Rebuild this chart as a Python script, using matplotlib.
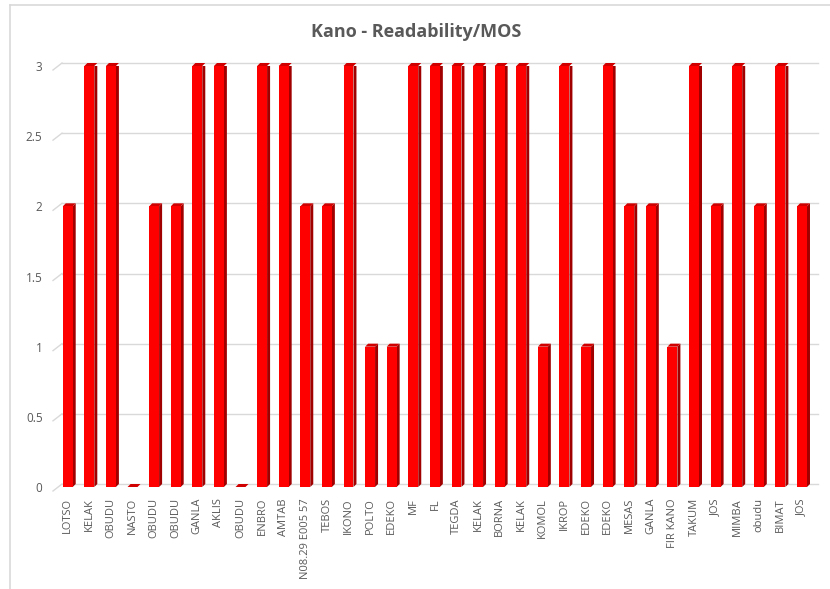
import matplotlib
matplotlib.use("Agg")
import matplotlib.pyplot as plt
from matplotlib.patches import Polygon
from matplotlib.lines import Line2D
import matplotlib.transforms as mtransforms

# data
sites = ["LOTSO", "KELAK", "OBUDU", "NASTO", "OBUDU", "OBUDU", "GANLA", "AKLIS",
         "OBUDU", "ENBRO", "AMTAB", "N08.29 E005 57", "TEBOS", "IKONO", "POLTO",
         "EDEKO", "MF", "FL", "TEGDA", "KELAK", "BORNA", "KELAK", "KOMOL", "IKROP",
         "EDEKO", "EDEKO", "MESAS", "GANLA", "FIR KANO", "TAKUM", "JOS", "MIMBA",
         "obudu", "BIMAT", "JOS"]
mos = [2, 3, 3, 0, 2, 2, 3, 3, 0, 3, 3, 2, 2, 3, 1, 1, 3, 3, 3, 3, 3, 3, 1, 3,
       1, 3, 2, 2, 1, 3, 2, 3, 2, 3, 2]
y_ticks = [0, 0.5, 1, 1.5, 2, 2.5, 3]
y_tick_labels = ["0", "0.5", "1", "1.5", "2", "2.5", "3"]

W, H = 830, 589
fig = plt.figure(figsize=(W / 100, H / 100), dpi=100)
fig.patch.set_facecolor("white")

# axes in pixel terms: left 55, right 818, bar base at 487, value 3 at 66
left, right, bottom, top = 55, 818, 487, 66
ax = fig.add_axes([left / W, 1 - bottom / H, (right - left) / W, (bottom - top) / H])
ax.set_xlim(-0.59, 34.74)
ax.set_ylim(0, 3)
ax.patch.set_visible(False)
for s in ax.spines.values():
    s.set_visible(False)

grey = "#595959"
gridc = "#D9D9D9"
x = list(range(len(sites)))
w = 0.46
dx = 3 / 21.6      # depth of the 3D effect in data units
dy = 3 / 140.3

# back-wall gridlines, with a short slanted floor piece on the left
ident = mtransforms.IdentityTransform()
x0_disp = ax.transAxes.transform((0, 0))[0]
x1_disp = ax.transAxes.transform((1, 0))[0]
for t in y_ticks:
    yd = ax.transData.transform((0, t))[1]
    fig.add_artist(Line2D([x0_disp - 2, x0_disp + 7], [yd - 4, yd + 3],
                          color=gridc, lw=1.0, transform=ident, zorder=0))
    fig.add_artist(Line2D([x0_disp + 7, x1_disp], [yd + 3, yd + 3],
                          color=gridc, lw=1.0, transform=ident, zorder=0))

# front faces
ax.bar(x, mos, width=w, color="#FF0000", edgecolor="none", zorder=3)

# side and top faces
for xi, v in zip(x, mos):
    xr = xi + w / 2
    xl = xi - w / 2
    side = Polygon([(xr, 0), (xr + dx, dy), (xr + dx, v + dy), (xr, v)],
                   closed=True, facecolor="#A00000", edgecolor="none", zorder=2)
    topf = Polygon([(xl, v), (xl + dx, v + dy), (xr + dx, v + dy), (xr, v)],
                   closed=True, facecolor="#D00000", edgecolor="none", zorder=2,
                   clip_on=False)
    ax.add_patch(side)
    ax.add_patch(topf)

ax.set_yticks(y_ticks)
ax.set_yticklabels(y_tick_labels, fontsize=8.5, color=grey, family="Open Sans")
for lbl in ax.get_yticklabels():
    lbl.set_transform(lbl.get_transform() +
                      mtransforms.ScaledTranslation(0, -4 / 100, fig.dpi_scale_trans))
ax.tick_params(axis="y", length=0, pad=9)

ax.set_xticks(x)
ax.set_xticklabels(sites, rotation=90, fontsize=8, color=grey, family="Open Sans",
                   va="top", ha="center")
ax.tick_params(axis="x", length=0, pad=8)

fig.text(416 / W, 1 - 32 / H, "Kano - Readability/MOS", ha="center", va="center",
         fontsize=13, fontweight="bold", color=grey, family="Open Sans")

# outer chart border (left and top edges visible in the crop)
fig.add_artist(Line2D([10 / W, 10 / W], [0, 1 - 5 / H], color=gridc, lw=1.2))
fig.add_artist(Line2D([10 / W, 1], [1 - 5 / H, 1 - 5 / H], color=gridc, lw=1.2))

fig.savefig("out.png", dpi=100, facecolor="white")
